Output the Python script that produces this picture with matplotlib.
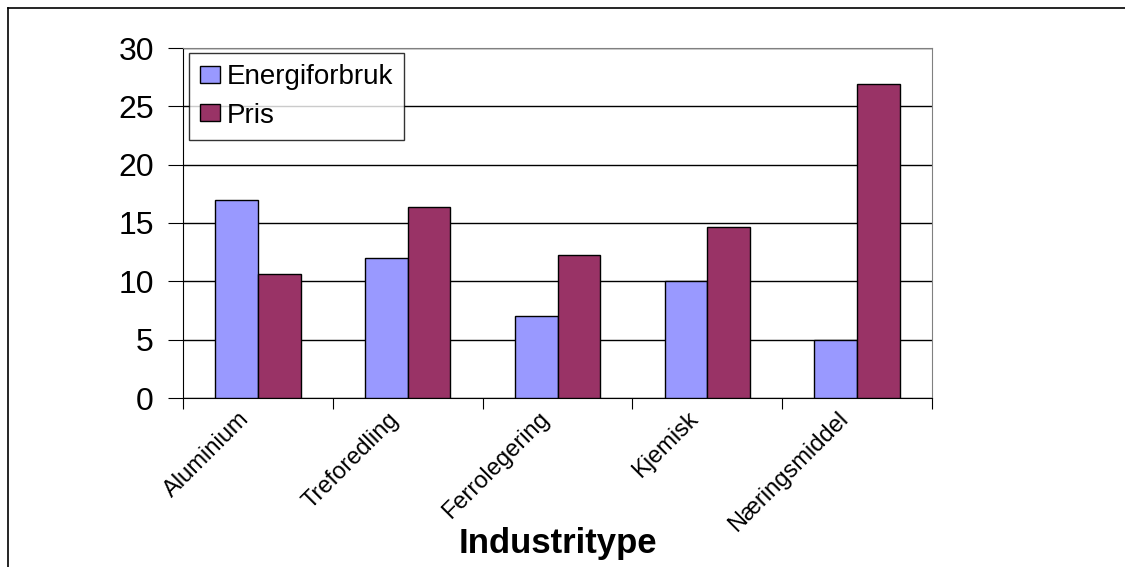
import matplotlib.pyplot as plt
import numpy as np
from matplotlib.lines import Line2D

kategorier = ["Aluminium", "Treforedling", "Ferrolegering", "Kjemisk", "Næringsmiddel"]
energiforbruk = [17, 12, 7, 10, 5]
pris = [10.6, 16.4, 12.3, 14.7, 26.9]

plt.rcParams['font.family'] = ['Liberation Sans', 'DejaVu Sans']

fig = plt.figure(figsize=(11.25, 5.67), dpi=100)
ax = fig.add_axes([183 / 1125, 169 / 567, 749 / 1125, 350 / 567])

x = np.arange(len(kategorier))
w = 0.285
ax.bar(x - w / 2, energiforbruk, w, color='#9999FF', edgecolor='black', linewidth=1,
       label='Energiforbruk', zorder=3)
ax.bar(x + w / 2, pris, w, color='#993366', edgecolor='black', linewidth=1,
       label='Pris', zorder=3)

ax.set_xlim(-0.5, len(kategorier) - 0.5)
ax.set_ylim(0, 30)
ax.set_yticks(range(0, 31, 5))
ax.yaxis.grid(True, color='black', linewidth=1, zorder=0)

# tick marks between categories, labels near the centres (nudged left like Excel)
ax.set_xticks(np.arange(-0.5, len(kategorier), 1))
ax.set_xticklabels([])
ax.set_xticks(x - 0.08, minor=True)
ax.set_xticklabels(kategorier, minor=True, rotation=45, ha='right', va='center',
                   rotation_mode='anchor', fontsize=17)
ax.tick_params(axis='x', which='major', length=8, direction='out', color='black')
ax.tick_params(axis='x', which='minor', length=0, pad=13)
ax.tick_params(axis='y', length=11, direction='out', labelsize=23, pad=10)

ax.spines['top'].set_color('#808080')
ax.spines['right'].set_color('#808080')
ax.spines['left'].set_color('black')
ax.spines['bottom'].set_color('black')

ax.set_xlabel('Industritype', fontsize=25, fontweight='bold')
ax.xaxis.set_label_coords(0.5, -0.37)

leg = ax.legend(loc='upper left', bbox_to_anchor=(0.008, 0.986), borderaxespad=0,
                fontsize=20, frameon=True, fancybox=False, edgecolor='black',
                handlelength=0.7, handleheight=0.55, handletextpad=0.25,
                labelspacing=0.45, borderpad=0.4)
leg.get_frame().set_linewidth(1)

# outer chart border (left and top edges visible)
fig.add_artist(Line2D([8 / 1125, 8 / 1125], [0, 1 - 8 / 567], color='black', linewidth=1.2))
fig.add_artist(Line2D([8 / 1125, 1], [1 - 8 / 567, 1 - 8 / 567], color='black', linewidth=1.2))

fig.savefig('out.png', dpi=100)
